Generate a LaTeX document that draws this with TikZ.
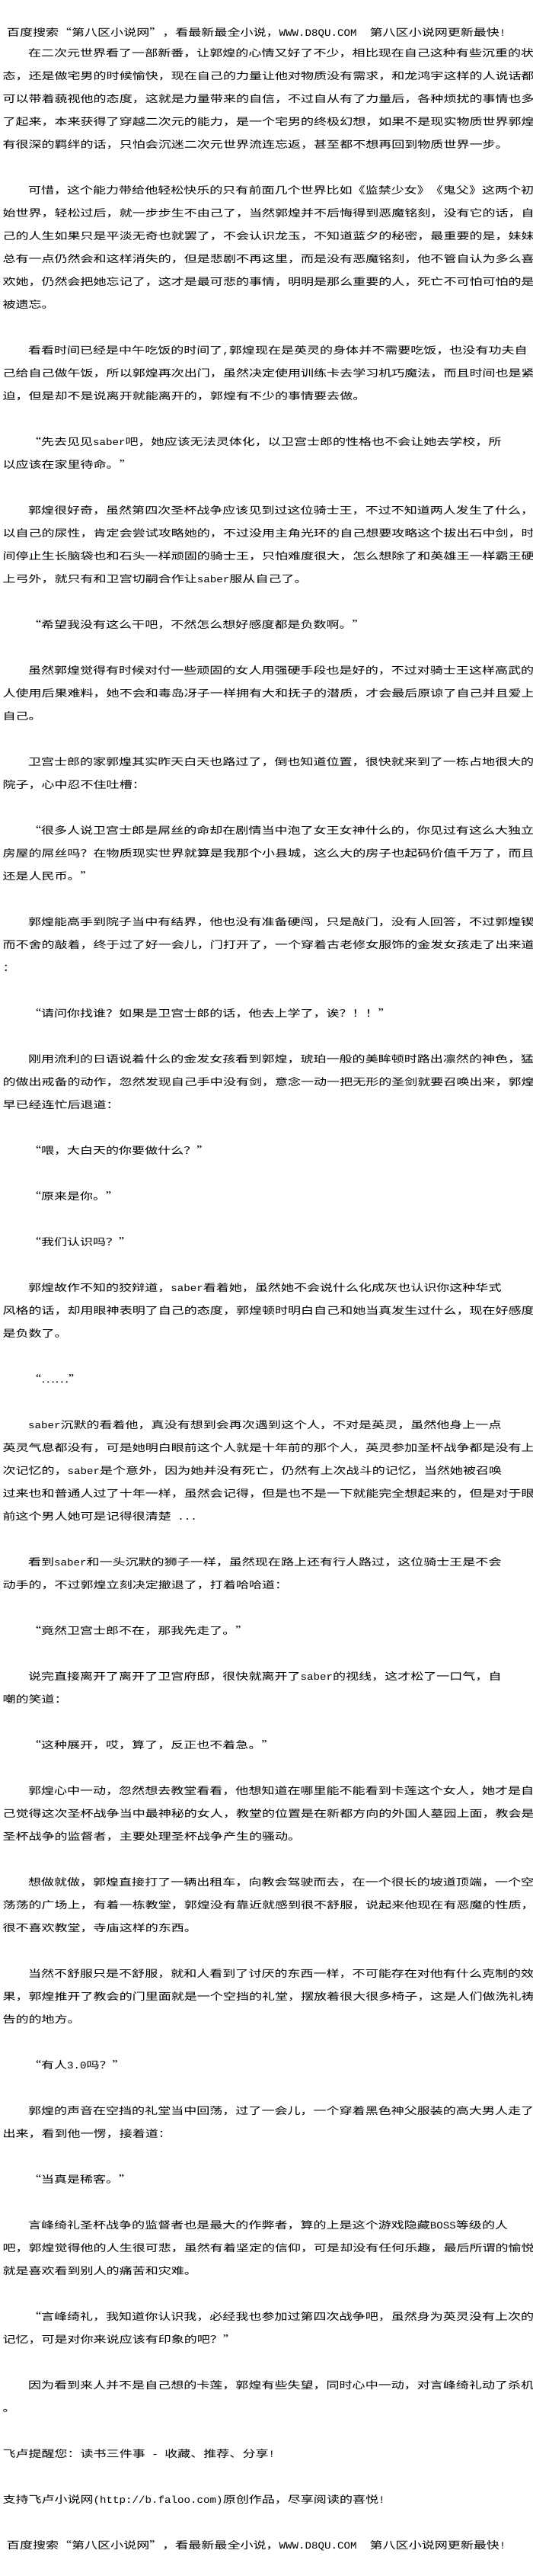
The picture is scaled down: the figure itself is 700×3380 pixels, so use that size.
\documentclass[tikz,border=0pt]{standalone}
\usepackage{fontspec}
\newfontfamily\cjk[FakeStretch=1.31,CharacterWidth=Full]{Noto Sans CJK SC}
\newfontfamily\latf[FakeStretch=1.09]{Liberation Mono}
\newcommand\mylat[1]{{\latf #1}}
\newcommand\Ln[4]{\node[ln] (#3) at (#2,{-(70+30*#1)}) {#4};}
\begin{document}
\begin{tikzpicture}[x=1pt,y=1pt,
  ln/.style={anchor=west,inner sep=0pt,outer sep=0pt,text height=11.44pt,text depth=1.56pt,font=\cjk\fontsize{13}{13}\selectfont,text=black}]
\path[use as bounding box,fill=white] (0,0) rectangle (700,-3380);
\def\B{3.5}\def\I{37}
\node[ln] (hdrtop) at (9,-43) {百度搜索“第八区小说网”，看最新最全小说，\mylat{WWW.D8QU.COM\ \ }第八区小说网更新最快\mylat{!}};
\Ln{0}{\I}{l0}{在二次元世界看了一部新番，让郭煌的心情又好了不少，相比现在自己这种有些沉重的状}
\Ln{1}{\B}{l1}{态，还是做宅男的时候愉快，现在自己的力量让他对物质没有需求，和龙鸿宇这样的人说话都}
\Ln{2}{\B}{l2}{可以带着藐视他的态度，这就是力量带来的自信，不过自从有了力量后，各种烦扰的事情也多}
\Ln{3}{\B}{l3}{了起来，本来获得了穿越二次元的能力，是一个宅男的终极幻想，如果不是现实物质世界郭煌}
\Ln{4}{\B}{l4}{有很深的羁绊的话，只怕会沉迷二次元世界流连忘返，甚至都不想再回到物质世界一步。}
\Ln{6}{\I}{l6}{可惜，这个能力带给他轻松快乐的只有前面几个世界比如《监禁少女》《鬼父》这两个初}
\Ln{7}{\B}{l7}{始世界，轻松过后，就一步步生不由己了，当然郭煌并不后悔得到恶魔铭刻，没有它的话，自}
\Ln{8}{\B}{l8}{己的人生如果只是平淡无奇也就罢了，不会认识龙玉，不知道蓝夕的秘密，最重要的是，妹妹}
\Ln{9}{\B}{l9}{总有一点仍然会和这样消失的，但是悲剧不再这里，而是没有恶魔铭刻，他不管自认为多么喜}
\Ln{10}{\B}{l10}{欢她，仍然会把她忘记了，这才是最可悲的事情，明明是那么重要的人，死亡不可怕可怕的是}
\Ln{11}{\B}{l11}{被遗忘。}
\Ln{13}{\I}{l13}{看看时间已经是中午吃饭的时间了\mylat{,}郭煌现在是英灵的身体并不需要吃饭，也没有功夫自}
\Ln{14}{\B}{l14}{己给自己做午饭，所以郭煌再次出门，虽然决定使用训练卡去学习机巧魔法，而且时间也是紧}
\Ln{15}{\B}{l15}{迫，但是却不是说离开就能离开的，郭煌有不少的事情要去做。}
\Ln{17}{\I}{l17}{“先去见见\mylat{saber}吧，她应该无法灵体化，以卫宫士郎的性格也不会让她去学校，所}
\Ln{18}{\B}{l18}{以应该在家里待命。”}
\Ln{20}{\I}{l20}{郭煌很好奇，虽然第四次圣杯战争应该见到过这位骑士王，不过不知道两人发生了什么，}
\Ln{21}{\B}{l21}{以自己的尿性，肯定会尝试攻略她的，不过没用主角光环的自己想要攻略这个拔出石中剑，时}
\Ln{22}{\B}{l22}{间停止生长脑袋也和石头一样顽固的骑士王，只怕难度很大，怎么想除了和英雄王一样霸王硬}
\Ln{23}{\B}{l23}{上弓外，就只有和卫宫切嗣合作让\mylat{saber}服从自己了。}
\Ln{25}{\I}{l25}{“希望我没有这么干吧，不然怎么想好感度都是负数啊。”}
\Ln{27}{\I}{l27}{虽然郭煌觉得有时候对付一些顽固的女人用强硬手段也是好的，不过对骑士王这样高武的}
\Ln{28}{\B}{l28}{人使用后果难料，她不会和毒岛冴子一样拥有大和抚子的潜质，才会最后原谅了自己并且爱上}
\Ln{29}{\B}{l29}{自己。}
\Ln{31}{\I}{l31}{卫宫士郎的家郭煌其实昨天白天也路过了，倒也知道位置，很快就来到了一栋占地很大的}
\Ln{32}{\B}{l32}{院子，心中忍不住吐槽：}
\Ln{34}{\I}{l34}{“很多人说卫宫士郎是屌丝的命却在剧情当中泡了女王女神什么的，你见过有这么大独立}
\Ln{35}{\B}{l35}{房屋的屌丝吗？在物质现实世界就算是我那个小县城，这么大的房子也起码价值千万了，而且}
\Ln{36}{\B}{l36}{还是人民币。”}
\Ln{38}{\I}{l38}{郭煌能高手到院子当中有结界，他也没有准备硬闯，只是敲门，没有人回答，不过郭煌锲}
\Ln{39}{\B}{l39}{而不舍的敲着，终于过了好一会儿，门打开了，一个穿着古老修女服饰的金发女孩走了出来道}
\Ln{40}{\B}{l40}{：}
\Ln{42}{\I}{l42}{“请问你找谁？如果是卫宫士郎的话，他去上学了，诶？！！”}
\Ln{44}{\I}{l44}{刚用流利的日语说着什么的金发女孩看到郭煌，琥珀一般的美眸顿时路出凛然的神色，猛}
\Ln{45}{\B}{l45}{的做出戒备的动作，忽然发现自己手中没有剑，意念一动一把无形的圣剑就要召唤出来，郭煌}
\Ln{46}{\B}{l46}{早已经连忙后退道：}
\Ln{48}{\I}{l48}{“喂，大白天的你要做什么？”}
\Ln{50}{\I}{l50}{“原来是你。”}
\Ln{52}{\I}{l52}{“我们认识吗？”}
\Ln{54}{\I}{l54}{郭煌故作不知的狡辩道，\mylat{saber}看着她，虽然她不会说什么化成灰也认识你这种华式}
\Ln{55}{\B}{l55}{风格的话，却用眼神表明了自己的态度，郭煌顿时明白自己和她当真发生过什么，现在好感度}
\Ln{56}{\B}{l56}{是负数了。}
\Ln{58}{\I}{l58}{“……”}
\Ln{60}{\I}{l60}{\mylat{saber}沉默的看着他，真没有想到会再次遇到这个人，不对是英灵，虽然他身上一点}
\Ln{61}{\B}{l61}{英灵气息都没有，可是她明白眼前这个人就是十年前的那个人，英灵参加圣杯战争都是没有上}
\Ln{62}{\B}{l62}{次记忆的，\mylat{saber}是个意外，因为她并没有死亡，仍然有上次战斗的记忆，当然她被召唤}
\Ln{63}{\B}{l63}{过来也和普通人过了十年一样，虽然会记得，但是也不是一下就能完全想起来的，但是对于眼}
\Ln{64}{\B}{l64}{前这个男人她可是记得很清楚\mylat{\ ...}}
\Ln{66}{\I}{l66}{看到\mylat{saber}和一头沉默的狮子一样，虽然现在路上还有行人路过，这位骑士王是不会}
\Ln{67}{\B}{l67}{动手的，不过郭煌立刻决定撤退了，打着哈哈道：}
\Ln{69}{\I}{l69}{“竟然卫宫士郎不在，那我先走了。”}
\Ln{71}{\I}{l71}{说完直接离开了离开了卫宫府邸，很快就离开了\mylat{saber}的视线，这才松了一口气，自}
\Ln{72}{\B}{l72}{嘲的笑道：}
\Ln{74}{\I}{l74}{“这种展开，哎，算了，反正也不着急。”}
\Ln{76}{\I}{l76}{郭煌心中一动，忽然想去教堂看看，他想知道在哪里能不能看到卡莲这个女人，她才是自}
\Ln{77}{\B}{l77}{己觉得这次圣杯战争当中最神秘的女人，教堂的位置是在新都方向的外国人墓园上面，教会是}
\Ln{78}{\B}{l78}{圣杯战争的监督者，主要处理圣杯战争产生的骚动。}
\Ln{80}{\I}{l80}{想做就做，郭煌直接打了一辆出租车，向教会驾驶而去，在一个很长的坡道顶端，一个空}
\Ln{81}{\B}{l81}{荡荡的广场上，有着一栋教堂，郭煌没有靠近就感到很不舒服，说起来他现在有恶魔的性质，}
\Ln{82}{\B}{l82}{很不喜欢教堂，寺庙这样的东西。}
\Ln{84}{\I}{l84}{当然不舒服只是不舒服，就和人看到了讨厌的东西一样，不可能存在对他有什么克制的效}
\Ln{85}{\B}{l85}{果，郭煌推开了教会的门里面就是一个空挡的礼堂，摆放着很大很多椅子，这是人们做洗礼祷}
\Ln{86}{\B}{l86}{告的的地方。}
\Ln{88}{\I}{l88}{“有人\mylat{3.0}吗？”}
\Ln{90}{\I}{l90}{郭煌的声音在空挡的礼堂当中回荡，过了一会儿，一个穿着黑色神父服装的高大男人走了}
\Ln{91}{\B}{l91}{出来，看到他一愣，接着道：}
\Ln{93}{\I}{l93}{“当真是稀客。”}
\Ln{95}{\I}{l95}{言峰绮礼圣杯战争的监督者也是最大的作弊者，算的上是这个游戏隐藏\mylat{BOSS}等级的人}
\Ln{96}{\B}{l96}{吧，郭煌觉得他的人生很可悲，虽然有着坚定的信仰，可是却没有任何乐趣，最后所谓的愉悦}
\Ln{97}{\B}{l97}{就是喜欢看到别人的痛苦和灾难。}
\Ln{99}{\I}{l99}{“言峰绮礼，我知道你认识我，必经我也参加过第四次战争吧，虽然身为英灵没有上次的}
\Ln{100}{\B}{l100}{记忆，可是对你来说应该有印象的吧？”}
\Ln{102}{\I}{l102}{因为看到来人并不是自己想的卡莲，郭煌有些失望，同时心中一动，对言峰绮礼动了杀机}
\Ln{103}{\B}{l103}{。}
\Ln{105}{\B}{l105}{飞卢提醒您：读书三件事\mylat{\ -\ }收藏、推荐、分享\mylat{!}}
\Ln{107}{\B}{l107}{支持飞卢小说网\mylat{(http://b.faloo.com)}原创作品，尽享阅读的喜悦\mylat{!}}
\Ln{109}{9}{hdrbot}{百度搜索“第八区小说网”，看最新最全小说，\mylat{WWW.D8QU.COM\ \ }第八区小说网更新最快\mylat{!}}
\end{tikzpicture}
\end{document}
